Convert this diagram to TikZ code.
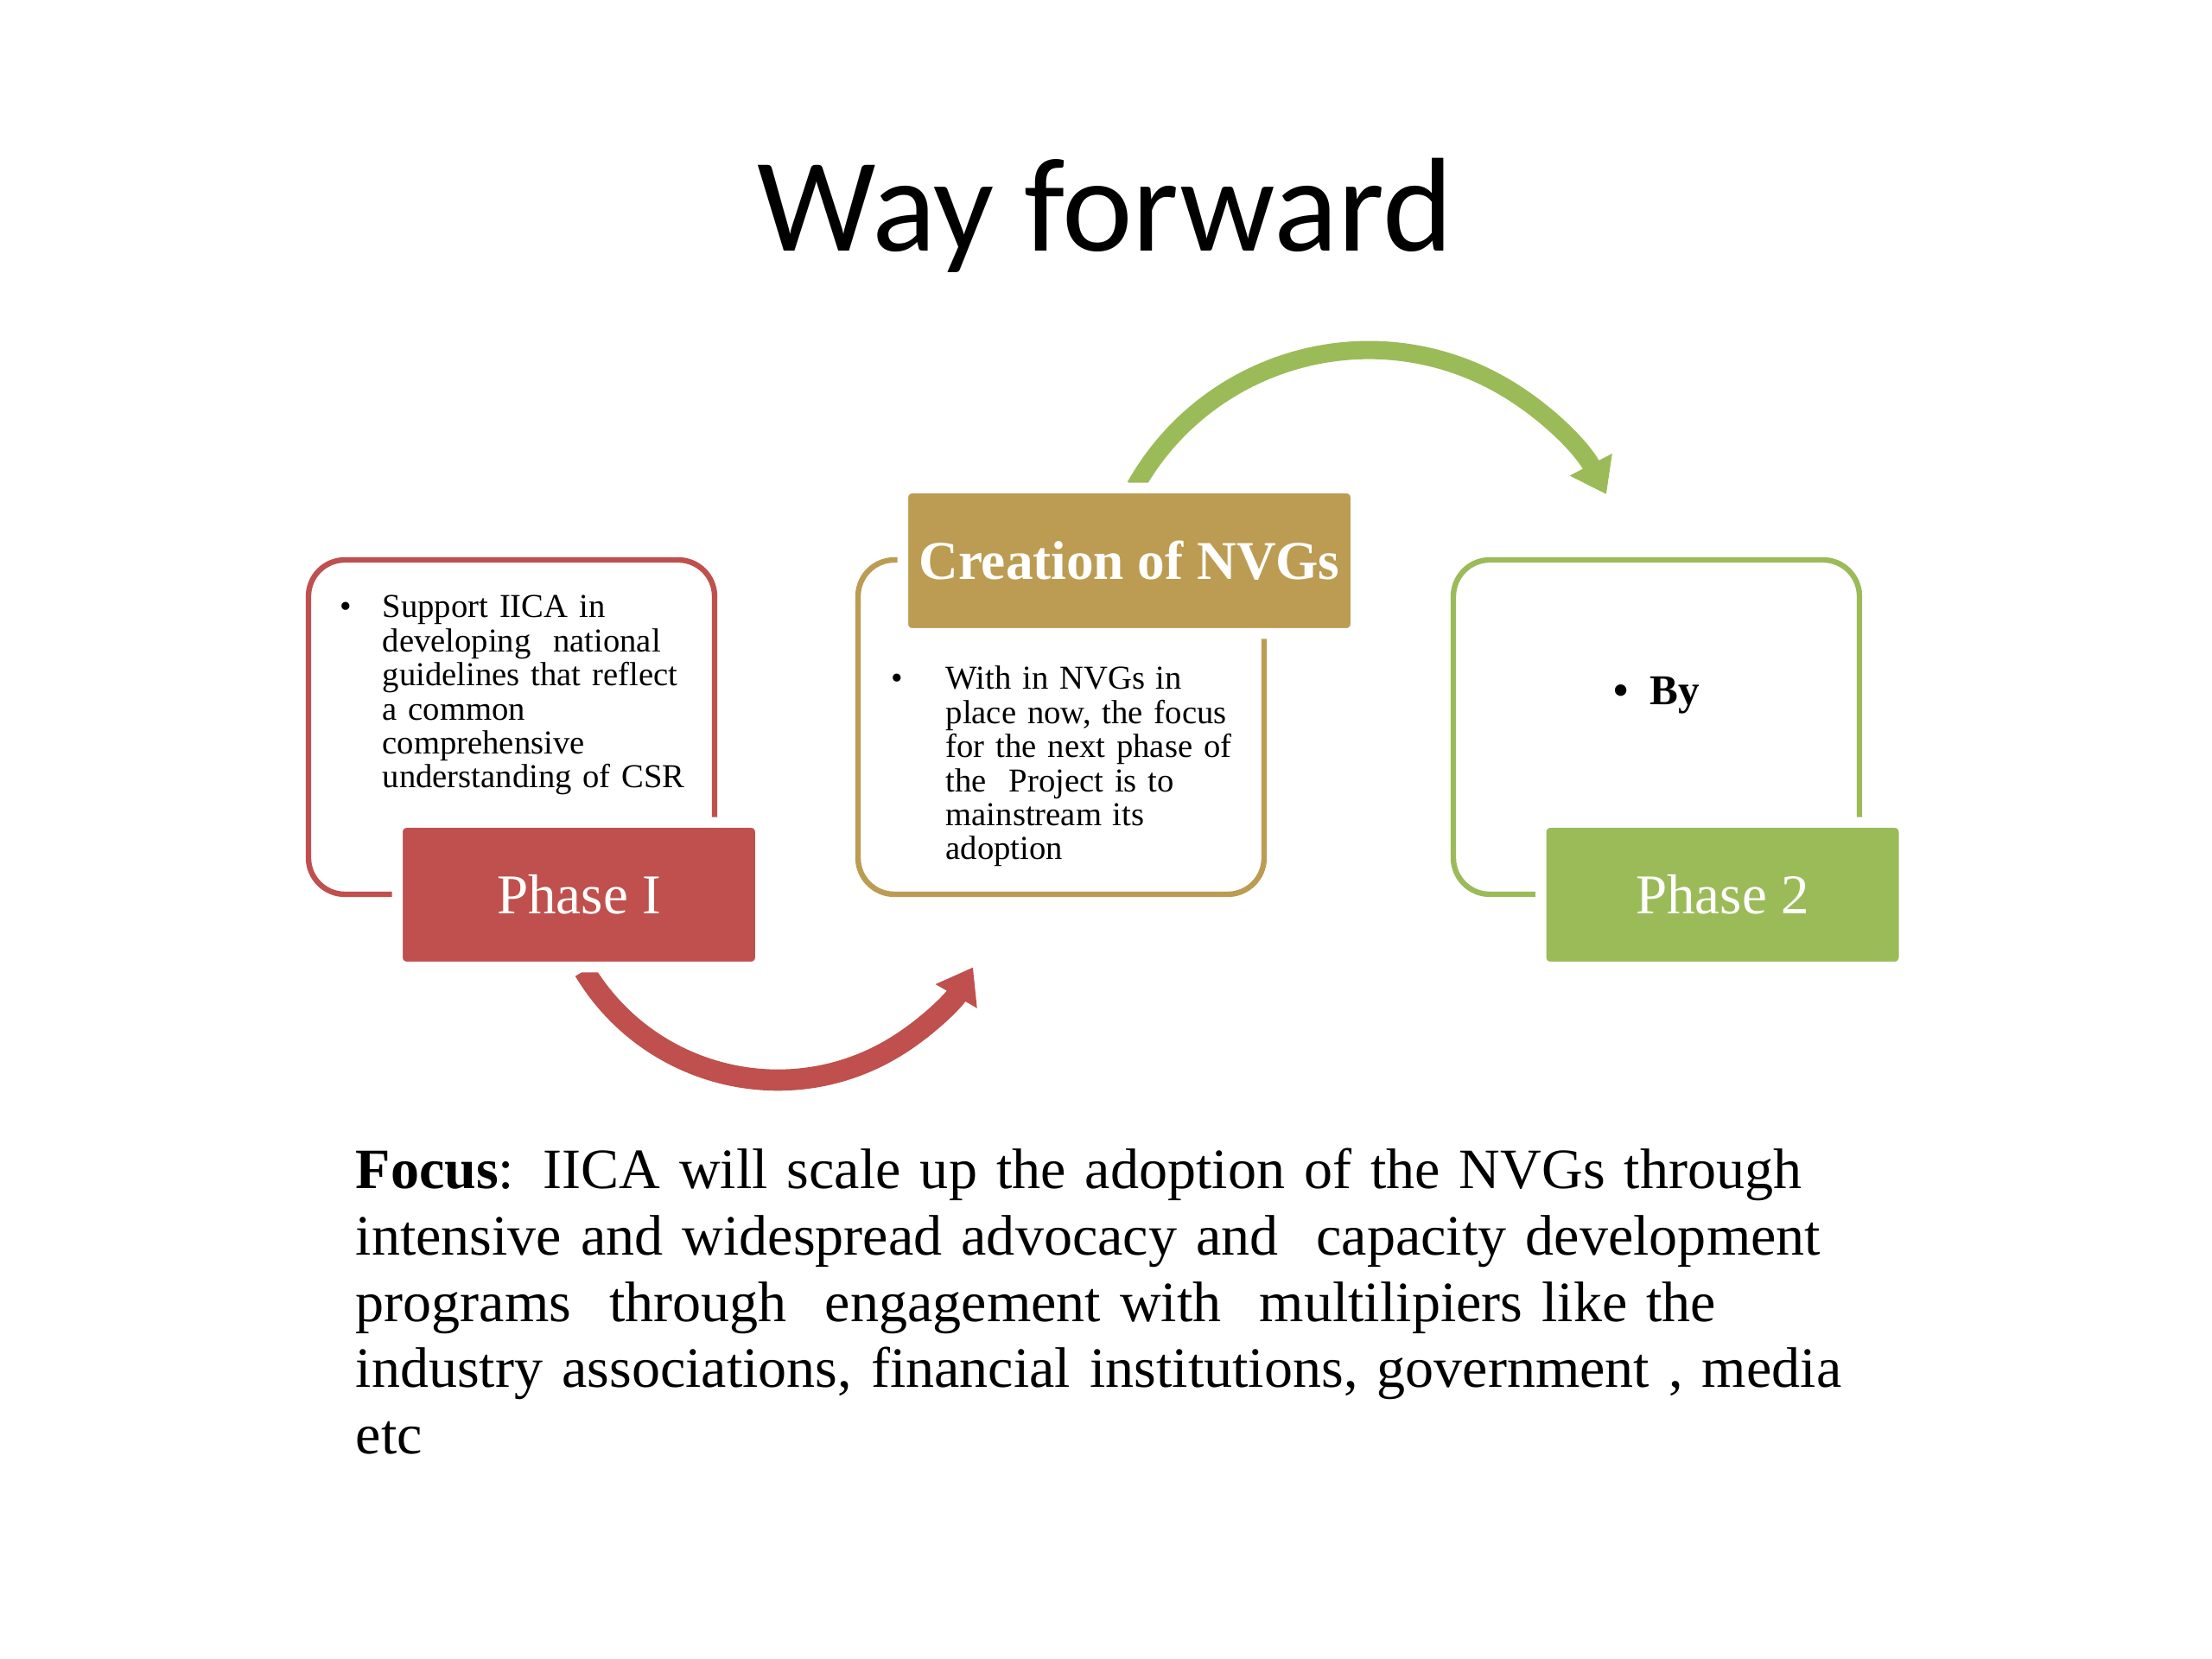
\documentclass[tikz,border=0pt]{standalone}
\usepackage{fontspec}
\setmainfont{Liberation Serif}
\newfontfamily\titlefont{Carlito}
\usetikzlibrary{arrows.meta}
\definecolor{phasered}{HTML}{C0504D}
\definecolor{phasegold}{HTML}{BC9C52}
\definecolor{phasegreen}{HTML}{9BBB59}

\begin{document}
\begin{tikzpicture}[
  framebox/.style={draw, rounded corners=12pt, line width=1.8pt,
                   minimum width=4.70cm, minimum height=3.87cm},
  phasebox/.style={draw=white, line width=3.5pt, rounded corners=3pt, text=white,
                   minimum width={4.08cm+3.5pt}, minimum height={1.55cm+3.5pt},
                   font=\fontsize{18.5}{22}\selectfont},
  headbox/.style={draw=white, line width=3.5pt, rounded corners=3pt, text=white,
                  minimum width={5.12cm+3.5pt}, minimum height={1.56cm+3.5pt},
                  font=\fontsize{18}{22}\selectfont\bfseries},
  itemtext/.style={anchor=base west, align=left, inner sep=0pt, text width=4cm,
                   font=\fontsize{11}{11.2}\selectfont},
  itemmark/.style={anchor=base, inner sep=0pt, font=\fontsize{11}{11.2}\selectfont},
  flowarrow/.style={line width=7pt, -{Triangle[width=15pt,length=11pt]}},
]
  \fill[white] (0,0) rectangle (25.6,19.2);
  \useasboundingbox (0,0) rectangle (25.6,19.2);

  % Title
  \node[anchor=base, font=\titlefont\fontsize{44}{50}\selectfont] (title) at (12.79,16.29) {Way forward};

  % Frames
  \node[framebox, draw=phasered] (frame1) at (5.92,10.785) {};
  \node[framebox, draw=phasegold] (frame2) at (12.28,10.785) {};
  \node[framebox, draw=phasegreen] (frame3) at (19.17,10.785) {};

  % Arrows
  \coordinate (redtail) at (6.763,7.966);
  \coordinate (greentail) at (13.14,13.57);
  \draw[flowarrow, phasered] (redtail) arc[start angle=211, end angle=330, radius=2.61];
  \draw[flowarrow, line width=6pt, phasegreen] (greentail) arc[start angle=150.6, end angle=27.5, radius=3.10];

  % Phases
  \node[phasebox, fill=phasered] (phase1) at (6.70,8.845) {Phase I};
  \node[headbox, fill=phasegold] (nvgs) at (13.07,12.71) {Creation of NVGs};
  \node[phasebox, fill=phasegreen] (phase2) at (19.935,8.845) {Phase 2};

  % Box texts
  \node[itemmark] (mark1) at (4.00,12.05) {•};
  \node[itemtext] (text1) at (4.42,12.05) {Support IICA in\\ developing~ national\\ guidelines that reflect\\ a common\\ comprehensive\\ understanding of CSR};
  \node[itemmark] (mark2) at (10.38,11.22) {•};
  \node[itemtext] (text2) at (10.94,11.22) {With in NVGs in\\ place now, the focus\\ for the next phase of\\ the~ Project is to\\ mainstream its\\ adoption};
  \node[anchor=base west, inner sep=0pt, font=\fontsize{14}{16}\selectfont\bfseries] (text3) at (18.67,11.04) {•\hspace{0.5em}By};

  % Focus
  \node[anchor=base west, align=left, inner sep=0pt, text width=19cm,
        font=\fontsize{18.8}{21.8}\selectfont] (focus) at (4.11,5.44)
    {\textbf{Focus}: IICA will scale up the adoption of the NVGs through\\
     intensive and widespread advocacy and~ capacity development\\
     programs~ through~ engagement with~ multilipiers like the\\
     industry associations, financial institutions, government , media\\
     etc};
\end{tikzpicture}
\end{document}
